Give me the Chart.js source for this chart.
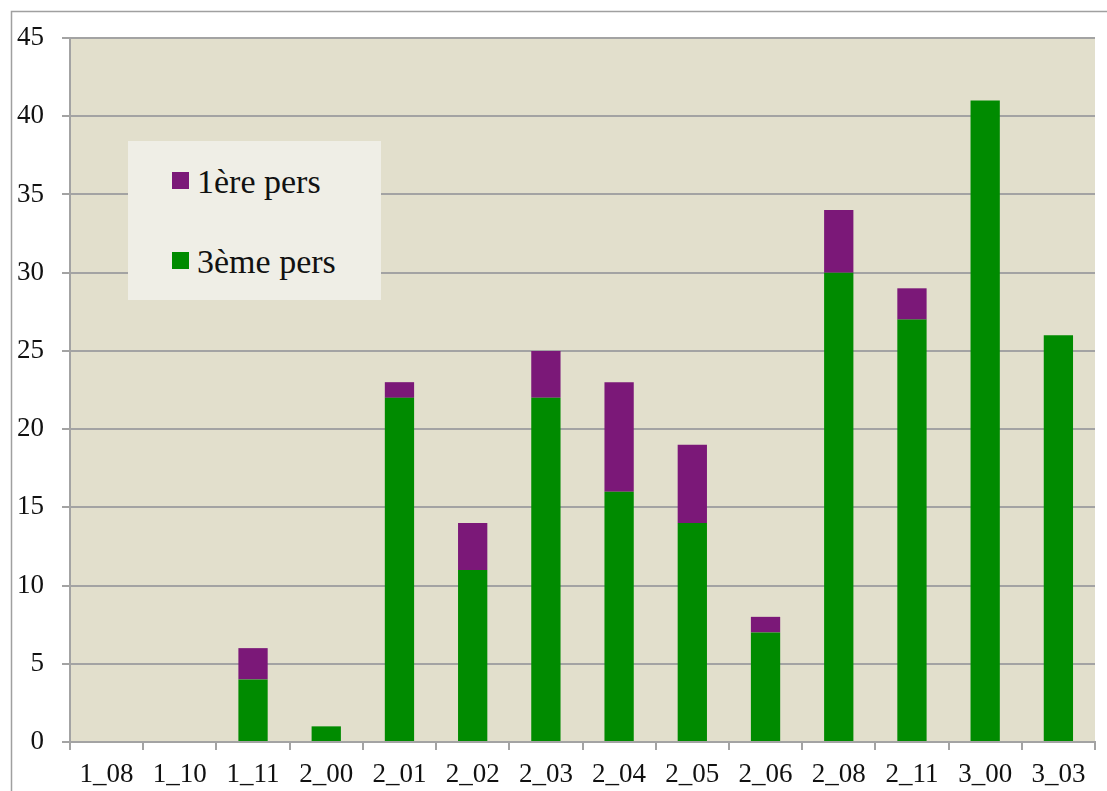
<!DOCTYPE html>
<html>
<head>
<meta charset="utf-8">
<script src="https://cdn.jsdelivr.net/npm/chart.js@4"></script>
<style>
  html, body { margin: 0; padding: 0; background: #fff; }
  #wrap { position: relative; width: 1107px; height: 791px; }
  #legendBox {
    position: absolute; left: 128px; top: 141px; width: 253px; height: 159px;
    background: #efeee6; font-family: "Liberation Serif", serif; font-size: 34px; color: #111;
  }
  .item { position: absolute; left: 44px; display: flex; align-items: center; line-height: 40px; }
  .sw { width: 17px; height: 17px; margin-right: 8px; margin-top: -4px; }
</style>
</head>
<body>
<div id="wrap">
  <canvas id="chart" width="1107" height="791"></canvas>
  <div id="legendBox"></div>
</div>
<script>
// categories and series
const categories = ["1_08", "1_10", "1_11", "2_00", "2_01", "2_02", "2_03", "2_04", "2_05", "2_06", "2_08", "2_11", "3_00", "3_03"];
const troisiemePers = [0, 0, 4, 1, 22, 11, 22, 16, 14, 7, 30, 27, 41, 26];
const premierePers = [0, 0, 2, 0, 1, 3, 3, 7, 5, 1, 4, 2, 0, 0];
const seriesNames = ["1ère pers", "3ème pers"];
const colors = { premiere: "#7b1878", troisieme: "#008b00" };

const gridColor = "#a3a3a3";
const fontFamily = '"Liberation Serif", serif';

// outer frame (top and left lines) + plot background
const framePlugin = {
  id: "frame",
  beforeDraw(chart) {
    const { ctx, chartArea: a } = chart;
    ctx.save();
    ctx.fillStyle = "#e2dfcc";
    ctx.fillRect(a.left, a.top, a.right - a.left, a.bottom - a.top);
    ctx.strokeStyle = "#a0a0a0";
    ctx.lineWidth = 1.5;
    ctx.beginPath();
    ctx.moveTo(1107, 11.5);
    ctx.lineTo(11.5, 11.5);
    ctx.lineTo(11.5, 791);
    ctx.stroke();
    ctx.restore();
  },
};

new Chart(document.getElementById("chart"), {
  type: "bar",
  data: {
    labels: categories,
    datasets: [
      { label: seriesNames[1], data: troisiemePers, backgroundColor: colors.troisieme, barPercentage: 0.4, categoryPercentage: 1 },
      { label: seriesNames[0], data: premierePers, backgroundColor: colors.premiere, barPercentage: 0.4, categoryPercentage: 1 },
    ],
  },
  options: {
    responsive: false,
    animation: false,
    layout: { padding: { top: 38, right: 12, left: 0, bottom: 0 } },
    plugins: { legend: { display: false }, tooltip: { enabled: false } },
    scales: {
      x: {
        stacked: true,
        grid: { drawOnChartArea: false, drawTicks: true, tickLength: 8, color: gridColor, lineWidth: 2, offset: true },
        border: { color: gridColor, width: 2 },
        ticks: { color: "#111", font: { family: fontFamily, size: 27 }, padding: 9, maxRotation: 0 },
        afterFit(s) { s.height = 49; },
      },
      y: {
        stacked: true,
        min: 0,
        max: 45,
        grid: { color: gridColor, lineWidth: 2, tickLength: 8 },
        border: { color: gridColor, width: 2 },
        ticks: { stepSize: 5, color: "#111", font: { family: fontFamily, size: 27 }, padding: 18 },
        afterFit(s) { s.width = 70; },
      },
    },
  },
  plugins: [framePlugin],
});

// legend built from the series
const box = document.getElementById("legendBox");
[[seriesNames[0], colors.premiere, 21], [seriesNames[1], colors.troisieme, 101]].forEach(([name, col, top]) => {
  const it = document.createElement("div");
  it.className = "item";
  it.style.top = top + "px";
  it.innerHTML = `<span class="sw" style="background:${col}"></span><span>${name}</span>`;
  box.appendChild(it);
});
</script>
</body>
</html>
